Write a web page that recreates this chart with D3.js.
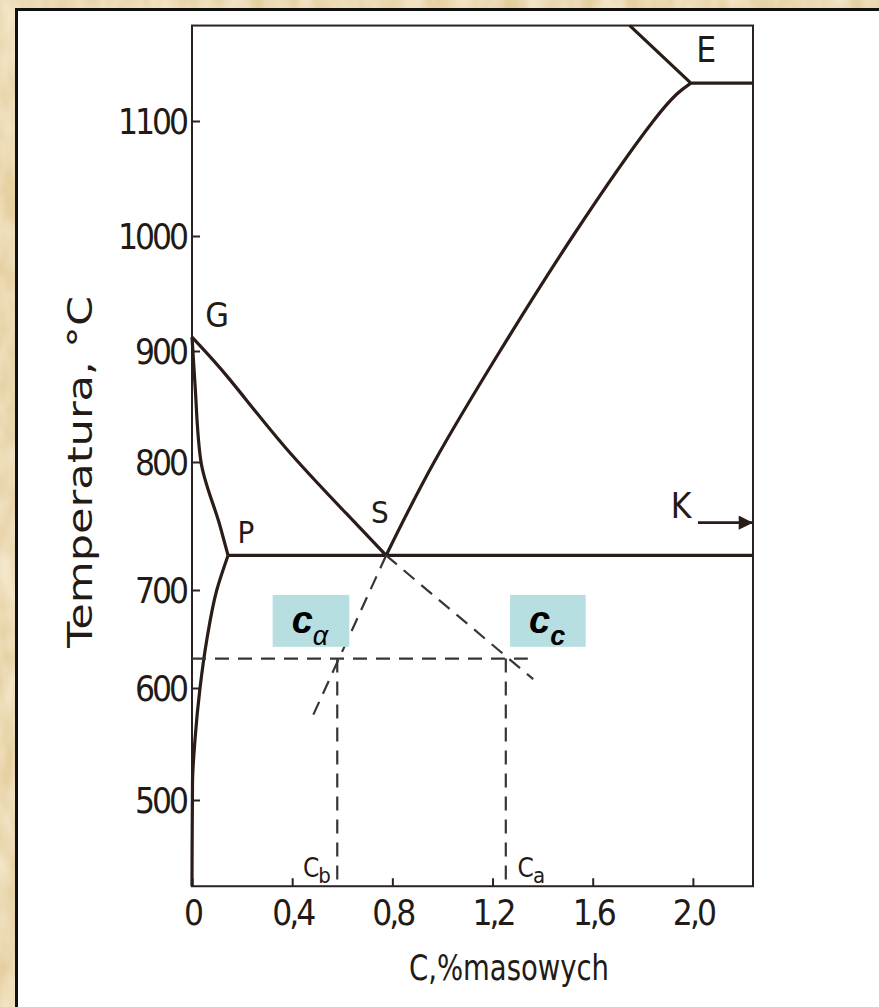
<!DOCTYPE html>
<html>
<head>
<meta charset="utf-8">
<script src="https://cdn.jsdelivr.net/npm/d3@7"></script>
<style>
  body { margin: 0; background: #e6d1a2; }
  svg { display: block; }
  .lbl { font-family: "DejaVu Sans Condensed", "Liberation Sans Narrow", sans-serif; font-stretch: condensed; fill: #231a16; }
</style>
</head>
<body>
<div id="chart"></div>
<script>
// --- dane ---
const xTicks = [0, 0.4, 0.8, 1.2, 1.6, 2.0];
const xTickLabels = ['0', '0,4', '0,8', '1,2', '1,6', '2,0'];
const yTicks = [500, 600, 700, 800, 900, 1000, 1100];
const yTickLabels = ['500', '600', '700', '800', '900', '1000', '1100'];
// polozenie podzialek na oryginalnym skanie nie jest rowne
const yTickPix = [800, 688, 590, 462, 351, 236, 121];

const curveGP = [[0, 912], [0.012, 870], [0.036, 800], [0.112, 750], [0.144, 727]];
const curveGS = [[0, 912], [0.152, 874], [0.371, 813.5], [0.615, 760], [0.775, 727]];
const curvePQ = [[0.144, 727], [0.099, 700], [0.059, 649], [0.032, 600], [0.012, 554], [0.002, 515], [0, 423]];
const curveSE = [[0.775, 727], [0.967, 800], [1.23, 900], [1.521, 1000], [1.842, 1100], [1.992, 1133]];
const lineE = [[1.748, 1183], [1.992, 1133], [2.24, 1133]];
const linePSK = [[0.144, 727], [2.24, 727]];

const dashLines = [
    [[0.775, 727], [0.471, 569.6]],
    [[0.775, 727], [1.3625, 609]],
    [[0, 630], [1.341, 630]],
    [[0.58, 630], [0.58, 423]],
    [[1.253, 630], [1.253, 423]]
];

const points = [
    {name: 'G', x: 0.1, t: 921, size: 34},
    {name: 'P', x: 0.215, t: 737, size: 31},
    {name: 'S', x: 0.75, t: 752, size: 31},
    {name: 'E', x: 2.053, t: 1151, size: 35},
    {name: 'K', x: 1.953, t: 756, size: 35}
];
const arrowK = [[2.02, 752.6], [2.24, 752.6]];

const boxes = [
    {x0: 0.322, x1: 0.628, t0: 695, t1: 642, main: 'c', sub: 'α'},
    {x0: 1.27, x1: 1.572, t0: 695, t1: 642, main: 'c', sub: 'c'}
];
const concLabels = [
    {x: 0.443, main: 'C', sub: 'b'},
    {x: 1.3, main: 'C', sub: 'a'}
];

const W = 879, H = 1007;

const svg = d3.select('#chart')
    .append('svg')
    .attr('width', W)
    .attr('height', H);

// tlo - pergamin
const defs = svg.append('defs');
const filt = defs.append('filter').attr('id', 'paper').attr('x', 0).attr('y', 0).attr('width', 1).attr('height', 1);
filt.append('feTurbulence').attr('type', 'fractalNoise').attr('baseFrequency', '0.04 0.02').attr('numOctaves', 3).attr('seed', 4).attr('result', 'n');
filt.append('feColorMatrix').attr('in', 'n').attr('type', 'matrix')
    .attr('values', '0 0 0 0 0.96  0 0 0 0 0.88  0 0 0 0 0.70  0 0 0 -1.1 0.9');
filt.append('feComposite').attr('in2', 'SourceGraphic').attr('operator', 'over');

svg.append('rect').attr('width', W).attr('height', H).attr('fill', '#e3cc99').attr('filter', 'url(#paper)');
svg.append('rect').attr('x', 15).attr('y', 8).attr('width', W).attr('height', H).attr('fill', '#fff');
svg.append('path').attr('d', `M16.5,${H} V9.5 H${W}`).attr('fill', 'none').attr('stroke', '#111').attr('stroke-width', 3);

// skale
const x = d3.scaleLinear().domain([0, 2.24]).range([192, 753]);
const y = d3.scaleLinear().domain(yTicks).range(yTickPix);
const tMin = 423, tMax = 1183;

const g = svg.append('g');

// ramka
g.append('rect')
    .attr('x', x(0)).attr('y', y(tMax))
    .attr('width', x(2.24) - x(0)).attr('height', y(tMin) - y(tMax))
    .attr('fill', 'none').attr('stroke', '#2a2220').attr('stroke-width', 2);

// os X
const xAxis = d3.axisBottom(x).tickValues(xTicks).tickSize(-8).tickFormat((d, i) => xTickLabels[i]).tickPadding(14);
const gx = g.append('g').attr('transform', `translate(0,${y(tMin)})`).call(xAxis);
gx.select('.domain').remove();
gx.selectAll('.tick line').attr('stroke', '#2a2220').attr('stroke-width', 2);
gx.selectAll('.tick text').attr('class', 'lbl').attr('font-size', 35).attr('letter-spacing', -3).attr('dy', '0.72em');

// os Y
const yAxis = d3.axisLeft(y).tickValues(yTicks).tickSize(-8).tickPadding(6).tickFormat((d, i) => yTickLabels[i]);
const gy = g.append('g').attr('transform', `translate(${x(0)},0)`).call(yAxis);
gy.select('.domain').remove();
gy.selectAll('.tick line').attr('stroke', '#2a2220').attr('stroke-width', 2);
gy.selectAll('.tick text').attr('class', 'lbl').attr('font-size', 35).attr('letter-spacing', -3).attr('dy', '0.36em');

// opisy osi
g.append('text')
    .attr('class', 'lbl')
    .attr('transform', `translate(92,${472}) rotate(-90)`)
    .attr('text-anchor', 'middle')
    .attr('font-size', 34)
    .attr('textLength', 352).attr('lengthAdjust', 'spacingAndGlyphs')
    .text('Temperatura, °C');

g.append('text')
    .attr('class', 'lbl')
    .attr('x', 509).attr('y', 980)
    .attr('text-anchor', 'middle')
    .attr('font-size', 36)
    .attr('textLength', 200).attr('lengthAdjust', 'spacingAndGlyphs')
    .text('C,%masowych');

// linie wykresu
const lineMono = d3.line().x(d => x(d[0])).y(d => y(d[1])).curve(d3.curveMonotoneY);
const lineSmooth = d3.line().x(d => x(d[0])).y(d => y(d[1])).curve(d3.curveNatural);
const straight = d3.line().x(d => x(d[0])).y(d => y(d[1]));

const ink = '#2a1c17';
const drawCurve = (data, gen) => {
    g.append('path').attr('d', gen(data)).attr('fill', 'none').attr('stroke', ink)
        .attr('stroke-width', 3.2).attr('stroke-linejoin', 'round');
};
drawCurve(curveGP, lineMono);
drawCurve(curvePQ, lineMono);
drawCurve(curveGS, lineSmooth);
drawCurve(curveSE, lineSmooth);
drawCurve(lineE, straight);
drawCurve(linePSK, straight);

dashLines.forEach(c => {
    g.append('path').attr('d', straight(c)).attr('fill', 'none')
        .attr('stroke', '#383535').attr('stroke-width', 2.2).attr('stroke-dasharray', '14,9');
});

// strzalka K
defs.append('marker').attr('id', 'arr').attr('viewBox', '0 0 10 10')
    .attr('refX', 10).attr('refY', 5).attr('markerWidth', 11).attr('markerHeight', 5.5)
    .attr('markerUnits', 'strokeWidth').attr('orient', 'auto')
    .append('path').attr('d', 'M0,0 L10,5 L0,10 Z').attr('fill', ink);
g.append('path').attr('d', straight(arrowK)).attr('stroke', ink).attr('stroke-width', 2.6).attr('marker-end', 'url(#arr)');

// etykiety punktow
g.selectAll('.pt')
    .data(points)
    .enter()
    .append('text')
        .attr('class', 'lbl')
        .attr('x', d => x(d.x))
        .attr('y', d => y(d.t))
        .attr('text-anchor', 'middle')
        .attr('font-size', d => d.size)
        .text(d => d.name);

// C_b, C_a
concLabels.forEach(d => {
    const t = g.append('text').attr('class', 'lbl').attr('x', x(d.x)).attr('y', y(tMin) - 9)
        .attr('font-size', 26).attr('letter-spacing', -1);
    t.append('tspan').text(d.main);
    t.append('tspan').attr('font-size', 22).attr('dy', 6).text(d.sub);
});

// pola c_alpha, c_c
boxes.forEach(b => {
    g.append('rect')
        .attr('x', x(b.x0)).attr('y', y(b.t0))
        .attr('width', x(b.x1) - x(b.x0)).attr('height', y(b.t1) - y(b.t0))
        .attr('fill', '#b7dfe1');
    const t = g.append('text')
        .attr('x', x(b.x0) + 19).attr('y', y(b.t0) + 38)
        .attr('font-family', 'Liberation Sans, Arial, sans-serif')
        .attr('font-style', 'italic').attr('font-weight', 'bold')
        .attr('font-size', 38).attr('fill', '#000');
    t.append('tspan').text(b.main);
    t.append('tspan').attr('dy', 12).attr('font-size', 27)
        .attr('font-weight', b.sub === 'α' ? 'normal' : 'bold').text(b.sub);
});
</script>
</body>
</html>
